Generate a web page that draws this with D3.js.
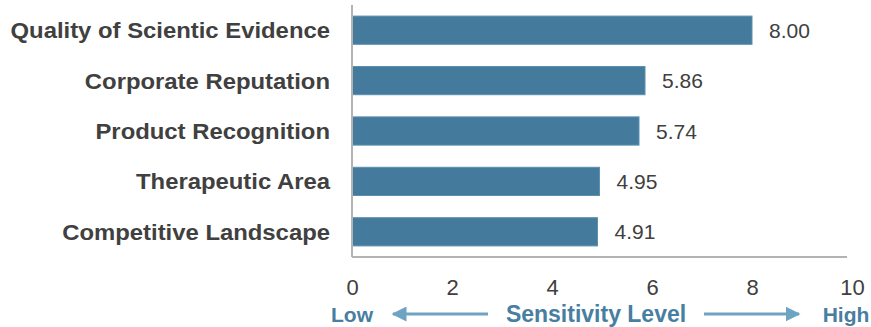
<!DOCTYPE html>
<html>
<head>
<meta charset="utf-8">
<script src="https://cdn.jsdelivr.net/npm/d3@7"></script>
<style>
  html, body { margin: 0; padding: 0; background: #fff; }
  svg { display: block; font-family: "Liberation Sans", Arial, sans-serif; }
</style>
</head>
<body>
<svg id="chart" width="871" height="327"></svg>
<script>
var categories = ['Quality of Scientic Evidence', 'Corporate Reputation', 'Product Recognition',
  'Therapeutic Area', 'Competitive Landscape'];
var values = [8.00, 5.86, 5.74, 4.95, 4.91];
var tickValues = [0, 2, 4, 6, 8, 10];
var axisTitle = 'Sensitivity Level';
var lowLabel = 'Low', highLabel = 'High';

var svg = d3.select('#chart');

var x = d3.scaleLinear().domain([0, 10]).range([352, 852]);
var y = d3.scaleBand().domain(categories).range([5, 257]).paddingInner(0.44).paddingOuter(0.22);

var barColor = '#447a9b',
  textColor = '#404040',
  accent = '#477ea1',
  arrowColor = '#6fa3c3';

// bars
svg.append('g').selectAll('rect')
  .data(values)
  .enter()
  .append('rect')
  .attr('x', x(0))
  .attr('y', (d, i) => y(categories[i]))
  .attr('width', d => x(d) - x(0))
  .attr('height', y.bandwidth())
  .attr('fill', barColor)
  .attr('stroke', '#5b90b0')
  .attr('stroke-width', 1);

// value labels
svg.append('g').selectAll('text')
  .data(values)
  .enter()
  .append('text')
  .attr('x', d => x(d) + 17)
  .attr('y', (d, i) => y(categories[i]) + y.bandwidth() / 2)
  .attr('dy', '0.36em')
  .attr('fill', textColor)
  .style('font-size', '21px')
  .text(d => d.toFixed(2));

// category labels (slightly widened like the original)
svg.append('g').selectAll('text')
  .data(categories)
  .enter()
  .append('text')
  .attr('transform', d => `translate(330,${y(d) + y.bandwidth() / 2}) scale(1.085,1)`)
  .attr('dy', '0.36em')
  .attr('text-anchor', 'end')
  .attr('fill', textColor)
  .style('font-size', '22px')
  .style('font-weight', 'bold')
  .text(d => d);

// axis lines
svg.append('line')
  .attr('x1', x(0)).attr('x2', x(0))
  .attr('y1', 5).attr('y2', 257)
  .attr('stroke', '#b3b3b3').attr('stroke-width', 2);
svg.append('line')
  .attr('x1', x(0)).attr('x2', x(10) - 5)
  .attr('y1', 257).attr('y2', 257)
  .attr('stroke', '#b3b3b3').attr('stroke-width', 2);

// x tick labels
var xAxis = svg.append('g')
  .attr('transform', 'translate(0,257)')
  .call(d3.axisBottom(x).tickValues(tickValues).tickSize(0).tickPadding(22).tickFormat(d3.format('d')));
xAxis.select('.domain').remove();
xAxis.selectAll('text')
  .attr('fill', textColor)
  .style('font-size', '22px')
  .style('font-family', '"Liberation Sans", Arial, sans-serif');

// bottom title with arrows
var defs = svg.append('defs');
defs.append('marker')
  .attr('id', 'head')
  .attr('viewBox', '0 0 10 10')
  .attr('refX', 9).attr('refY', 5)
  .attr('markerWidth', 5).attr('markerHeight', 5)
  .attr('markerUnits', 'strokeWidth')
  .attr('orient', 'auto')
  .append('path')
  .attr('d', 'M0,0 L10,5 L0,10 Z')
  .attr('fill', arrowColor);

var titleY = 322;
svg.append('text')
  .attr('x', x(0)).attr('y', titleY)
  .attr('text-anchor', 'middle')
  .attr('fill', accent)
  .style('font-size', '21px').style('font-weight', 'bold')
  .text(lowLabel);
svg.append('text')
  .attr('x', x(10) - 6).attr('y', titleY)
  .attr('text-anchor', 'middle')
  .attr('fill', accent)
  .style('font-size', '21px').style('font-weight', 'bold')
  .text(highLabel);
svg.append('text')
  .attr('x', 596).attr('y', titleY)
  .attr('text-anchor', 'middle')
  .attr('fill', accent)
  .style('font-size', '23px').style('font-weight', 'bold')
  .text(axisTitle);

svg.append('line')
  .attr('x1', 488).attr('x2', 393)
  .attr('y1', titleY - 8).attr('y2', titleY - 8)
  .attr('stroke', arrowColor).attr('stroke-width', 3)
  .attr('marker-end', 'url(#head)');
svg.append('line')
  .attr('x1', 704).attr('x2', 799)
  .attr('y1', titleY - 8).attr('y2', titleY - 8)
  .attr('stroke', arrowColor).attr('stroke-width', 3)
  .attr('marker-end', 'url(#head)');
</script>
</body>
</html>
